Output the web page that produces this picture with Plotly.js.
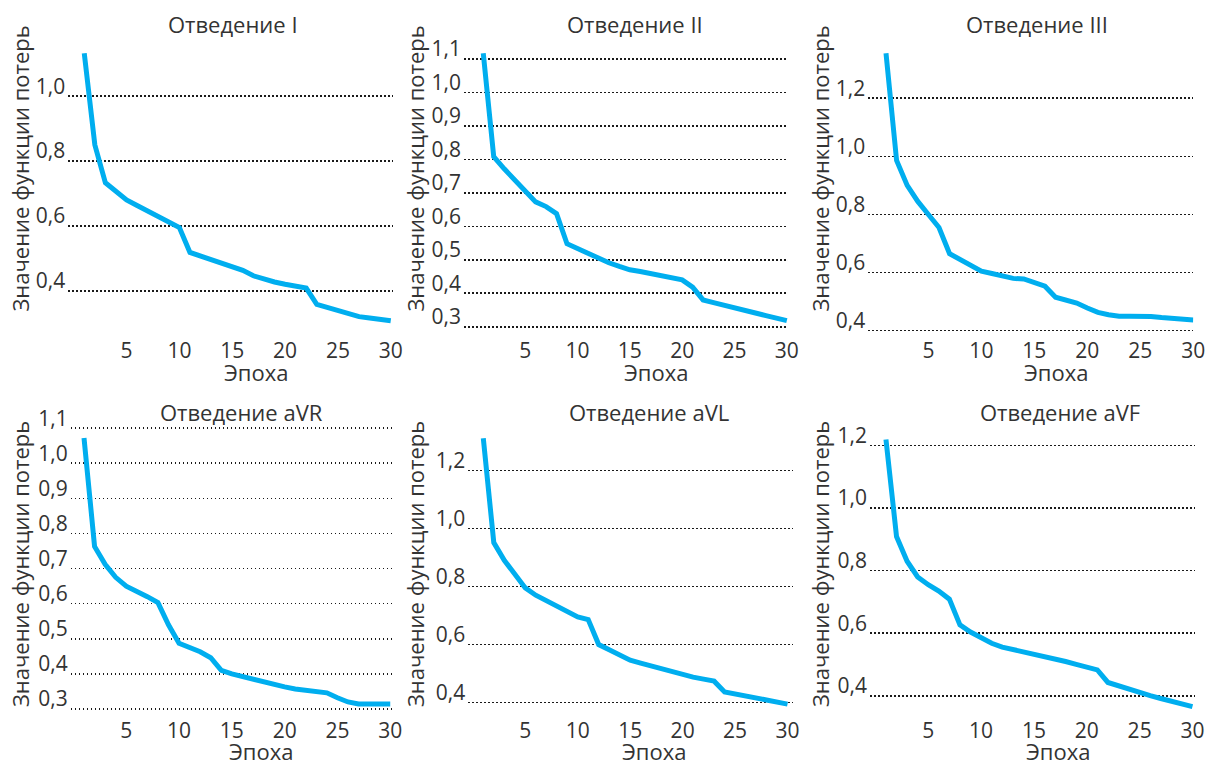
<!DOCTYPE html>
<html>
<head>
<meta charset="utf-8">
<script src="https://cdn.plot.ly/plotly-3.0.1.min.js"></script>
<style>html,body{margin:0;padding:0;background:#fff;}#chart{width:1207px;height:765px;}</style>
</head>
<body>
<div id="chart"></div>
<script>
// ---- data ----
const epochs = [1,2,3,4,5,6,7,8,9,10,11,12,13,14,15,16,17,18,19,20,21,22,23,24,25,26,27,28,29,30];
const leadNames = ["Отведение I","Отведение II","Отведение III","Отведение aVR","Отведение aVL","Отведение aVF"];
const lossI   = [1.133,0.850,0.733,0.705,0.680,0.663,0.646,0.629,0.612,0.595,0.518,0.507,0.496,0.485,0.474,0.463,0.446,0.435,0.427,0.420,0.414,0.408,0.358,0.348,0.338,0.328,0.320,0.316,0.312,0.307];
const lossII  = [1.117,0.808,0.772,0.738,0.703,0.673,0.659,0.638,0.548,0.533,0.519,0.505,0.491,0.480,0.470,0.465,0.459,0.454,0.449,0.440,0.418,0.380,0.372,0.365,0.357,0.349,0.341,0.333,0.325,0.318];
const lossIII = [1.355,0.986,0.900,0.845,0.800,0.755,0.665,0.645,0.625,0.605,0.597,0.588,0.580,0.578,0.565,0.553,0.515,0.505,0.495,0.478,0.463,0.455,0.450,0.450,0.450,0.449,0.445,0.442,0.440,0.437];
const lossAVR = [1.072,0.763,0.712,0.675,0.650,0.636,0.620,0.603,0.540,0.487,0.475,0.463,0.446,0.410,0.400,0.392,0.384,0.377,0.370,0.363,0.357,0.353,0.350,0.346,0.332,0.320,0.314,0.314,0.314,0.314];
const lossAVL = [1.310,0.951,0.890,0.840,0.795,0.770,0.750,0.731,0.713,0.695,0.686,0.600,0.582,0.564,0.546,0.536,0.526,0.515,0.505,0.496,0.488,0.481,0.474,0.437,0.430,0.423,0.416,0.409,0.402,0.395];
const lossAVF = [1.219,0.909,0.830,0.780,0.755,0.735,0.709,0.627,0.604,0.584,0.568,0.556,0.549,0.542,0.535,0.528,0.519,0.510,0.501,0.492,0.483,0.443,0.432,0.420,0.410,0.401,0.392,0.383,0.374,0.366];
const xTicks = [5,10,15,20,25,30];
const yTicksStep01 = [0.3,0.4,0.5,0.6,0.7,0.8,0.9,1.0,1.1];
const yTicksI = [0.4,0.6,0.8,1.0];
const yTicksStep02 = [0.4,0.6,0.8,1.0,1.2];
const xLabel = "Эпоха";
const yLabel = "Значение функции потерь";

// ---- layout helpers (pixel geometry -> paper fractions) ----
const W = 1207, H = 765;
const fx = p => p / W, fy = p => 1 - p / H;
const series = [lossI, lossII, lossIII, lossAVR, lossAVL, lossAVF];
const panels = [
  {xd:[68.3,393.3],  yd:[48,336],  xr:[-0.51,30.24], yr:[0.2602,1.149], yt:yTicksI,      title:[233,24.3],    ytl:[19,168.5], xtl:[256,372]},
  {xd:[464,788.3],   yd:[48,336],  xr:[-0.84,30.14], yr:[0.2722,1.133], yt:yTicksStep01, title:[634.5,24.3],  ytl:[414,168.5], xtl:[656,372]},
  {xd:[868.3,1193.3],yd:[48,336],  xr:[-0.67,30.0],  yr:[0.3817,1.373], yt:yTicksStep02, title:[1037,24.3],   ytl:[819,168.5], xtl:[1056,372]},
  {xd:[70.7,393.3],  yd:[425,716], xr:[-0.26,30.29], yr:[0.280,1.109],  yt:yTicksStep01, title:[241,411.7],   ytl:[20,564],   xtl:[261,751]},
  {xd:[468.3,793.3], yd:[425,716], xr:[-0.43,30.55], yr:[0.354,1.356],  yt:yTicksStep02, title:[649,411.7],   ytl:[415,564],  xtl:[654,751]},
  {xd:[870,1195],    yd:[425,716], xr:[-0.51,30.24], yr:[0.336,1.265],  yt:yTicksStep02, title:[1059.6,411.7],ytl:[820,564],  xtl:[1058,751]}
];

const FONT = "Open Sans, Noto Sans, sans-serif";
const TXT = "#333333";
const LINE = "#00AEEF";
const FS = 22;

const traces = [];
const layout = {
  width: W, height: H,
  margin: {l:0, r:0, t:0, b:0},
  paper_bgcolor: "#ffffff", plot_bgcolor: "rgba(0,0,0,0)",
  showlegend: false,
  separators: ", ",
  font: {family: FONT, color: TXT, size: FS},
  annotations: []
};

panels.forEach((p, i) => {
  const n = i === 0 ? "" : String(i + 1);
  traces.push({
    type: "scatter", mode: "lines",
    x: epochs, y: series[i],
    xaxis: "x" + n, yaxis: "y" + n,
    line: {color: LINE, width: 5},
    hoverinfo: "skip"
  });
  layout["xaxis" + n] = {
    domain: [fx(p.xd[0]), fx(p.xd[1])],
    range: p.xr, anchor: "y" + n,
    tickmode: "array", tickvals: xTicks,
    showgrid: false, zeroline: false, showline: false, ticks: "",
    ticklabelstandoff: 0,
    tickfont: {family: FONT, color: TXT, size: 21},
    fixedrange: true
  };
  layout["yaxis" + n] = {
    domain: [fy(p.yd[1]), fy(p.yd[0])],
    range: p.yr, anchor: "x" + n,
    tickmode: "array", tickvals: p.yt, tickformat: ".1f",
    showgrid: true, gridcolor: "#1a1a1a", gridwidth: 1.6, griddash: "1.6px,2.4px",
    zeroline: false, showline: false, ticks: "",
    ticklabelshift: -10, ticklabelstandoff: 2,
    tickfont: {family: FONT, color: TXT, size: 21},
    fixedrange: true
  };
  layout.annotations.push({
    text: leadNames[i], xref: "paper", yref: "paper",
    x: fx(p.title[0]), y: fy(p.title[1]), xanchor: "center", yanchor: "middle",
    showarrow: false, font: {family: FONT, color: TXT, size: FS}
  });
  layout.annotations.push({
    text: yLabel, xref: "paper", yref: "paper", textangle: -90,
    x: fx(p.ytl[0]), y: fy(p.ytl[1]), xanchor: "center", yanchor: "middle",
    showarrow: false, font: {family: FONT, color: TXT, size: FS}
  });
  layout.annotations.push({
    text: xLabel, xref: "paper", yref: "paper",
    x: fx(p.xtl[0]), y: fy(p.xtl[1]), xanchor: "center", yanchor: "middle",
    showarrow: false, font: {family: FONT, color: TXT, size: FS}
  });
});

Plotly.newPlot("chart", traces, layout, {staticPlot: true, displayModeBar: false});
</script>
</body>
</html>
